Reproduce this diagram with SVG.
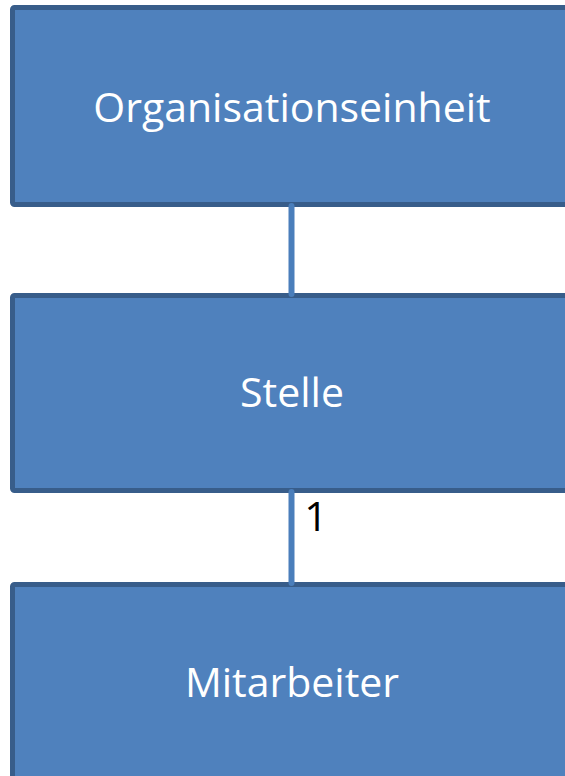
<svg xmlns="http://www.w3.org/2000/svg" width="565" height="776" viewBox="0 0 565 776">
<style>
.box{fill:#4F81BD;stroke:#385D8A;stroke-width:5}
.lbl{font-family:"Open Sans","Liberation Sans",sans-serif;font-size:41px;fill:#FFFFFF;text-anchor:middle}
.conn{stroke:#4A7EBB;stroke-width:6;stroke-linecap:round;fill:none}
.num{font-family:"Open Sans","Liberation Sans",sans-serif;font-size:41px;fill:#000000;text-anchor:middle}
</style>
<rect width="565" height="776" fill="#FFFFFF"/>
<g id="organisationseinheit">
<rect class="box" x="12.5" y="7.5" width="558" height="197" rx="2"/>
<text class="lbl" x="292" y="122">Organisationseinheit</text>
</g>
<g id="stelle">
<rect class="box" x="12.5" y="295.5" width="558" height="195" rx="2"/>
<text class="lbl" x="292" y="407">Stelle</text>
</g>
<g id="mitarbeiter">
<rect class="box" x="12.5" y="584.5" width="558" height="200" rx="2"/>
<text class="lbl" x="292" y="697">Mitarbeiter</text>
</g>
<g id="connectors">
<line class="conn" x1="291.5" y1="206" x2="291.5" y2="294"/>
<line class="conn" x1="291.5" y1="492" x2="291.5" y2="583"/>
<text class="num" x="316" y="531">1</text>
</g>
</svg>
